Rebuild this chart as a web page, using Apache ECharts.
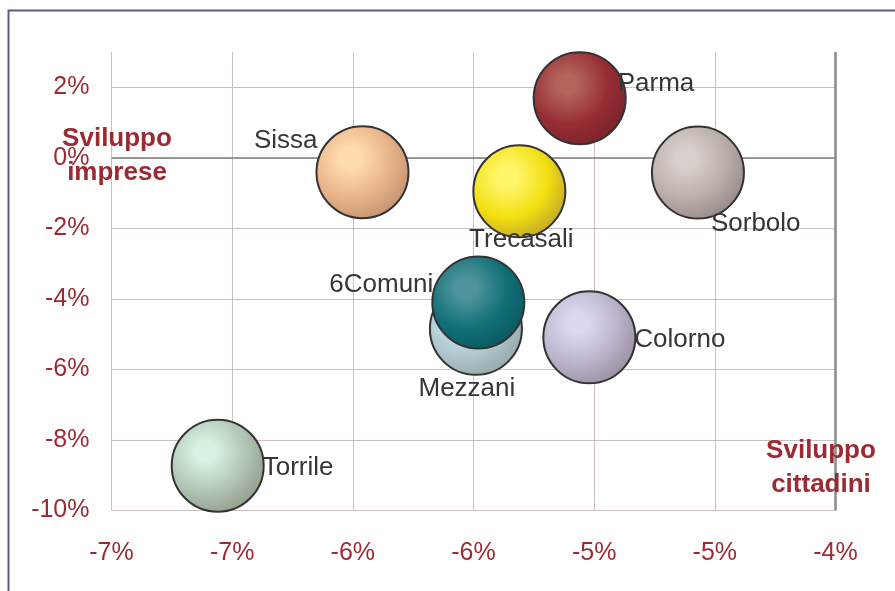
<!DOCTYPE html>
<html>
<head>
<meta charset="utf-8">
<script src="https://cdn.jsdelivr.net/npm/echarts@6/dist/echarts.min.js"></script>
<style>
html,body{margin:0;padding:0;background:#fff;}
#chart{width:895px;height:591px;}
</style>
</head>
<body>
<div id="chart"></div>
<script>
// ---- data ----
var names   = ['Parma', 'Sissa', 'Trecasali', 'Sorbolo', 'Mezzani', 'Colorno', 'Torrile', '6Comuni'];
var xValues = [-5.06, -5.96, -5.31, -4.57, -5.49, -5.02, -6.56, -5.48]; // Sviluppo cittadini (%)
var yValues = [1.69, -0.41, -0.95, -0.42, -4.85, -5.09, -8.73, -4.10];  // Sviluppo imprese (%)
var xTicks = { min: -7, max: -4, interval: 0.5 };
var yTicks = { min: -10, max: 3, interval: 2 };
var xTitle = ['Sviluppo', 'cittadini'];
var yTitle = ['Sviluppo', 'imprese'];

// ---- styles ----
var bubbleColors = {
  'Parma':     ['#b3645b', '#962d34', '#7a2229'],
  'Sissa':     ['#ffdcae', '#e8b388', '#bf9170'],
  'Trecasali': ['#fff66a', '#f2df10', '#bea52e'],
  'Sorbolo':   ['#d8d0cc', '#b9aeaa', '#948884'],
  'Mezzani':   ['#cbe9f1', '#b0c8ce', '#94a5a8'],
  'Colorno':   ['#dcd8f2', '#bbb3cb', '#998d9c'],
  'Torrile':   ['#d6f2e2', '#b2c4b4', '#8f9b88'],
  '6Comuni':   ['#4f949b', '#106f78', '#0a585f']
};
// label placement: [dx, dy, align] relative to bubble centre
var labelPlace = {
  'Parma':     [39, -13, 'left'],
  'Sissa':     [-44, -30, 'right'],
  'Trecasali': [3, 50, 'center'],
  'Sorbolo':   [14, 52, 'left'],
  'Mezzani':   [-8, 61, 'center'],
  'Colorno':   [46, 4, 'left'],
  'Torrile':   [46, 3, 'left'],
  '6Comuni':   [-44, -17, 'right']
};
var SIZE = 92;
var red = '#9c2a33';
var font = 'Liberation Sans, Arial, sans-serif';

function excelRound(v) {
  var r = Math.round(Math.abs(v) + 1e-9);
  return (v < 0 && r !== 0 ? '-' : '') + r + '%';
}

var data = names.map(function (n, i) {
  var c = bubbleColors[n], p = labelPlace[n];
  return {
    name: n,
    value: [xValues[i], yValues[i]],
    itemStyle: {
      opacity: 1,
      color: {
        type: 'radial', x: 0.37, y: 0.35, r: 0.72,
        colorStops: [
          { offset: 0, color: c[0] },
          { offset: 0.15, color: c[0] },
          { offset: 0.6, color: c[1] },
          { offset: 1, color: c[2] }
        ]
      },
      borderColor: '#333333',
      borderWidth: 2
    },
    label: {
      show: true,
      formatter: n,
      position: [SIZE / 2 + p[0], SIZE / 2 + p[1]],
      align: p[2],
      verticalAlign: 'middle'
    }
  };
});

var chart = echarts.init(document.getElementById('chart'));
chart.setOption({
  animation: false,
  backgroundColor: '#ffffff',
  grid: { left: 111.5, right: 59.5, top: 52, bottom: 80.5, containLabel: false },
  xAxis: {
    type: 'value',
    min: xTicks.min, max: xTicks.max, interval: xTicks.interval,
    axisLine: { show: false },
    axisTick: { show: false },
    axisLabel: { color: red, fontSize: 25, fontFamily: font, margin: 30, formatter: excelRound },
    splitLine: { show: true, lineStyle: { color: '#cbbfbf', width: 1 } }
  },
  yAxis: {
    type: 'value',
    min: yTicks.min, max: yTicks.max, interval: yTicks.interval,
    axisLine: { show: false },
    axisTick: { show: false },
    axisLabel: {
      color: red, fontSize: 25, fontFamily: font, margin: 22, showMaxLabel: false,
      padding: [4, 0, 0, 0],
      formatter: function (v) { return (v % 2 === 0) ? excelRound(v) : ''; }
    },
    splitLine: { show: true, showMaxLine: false, lineStyle: { color: '#cbbfbf', width: 1 } }
  },
  series: [{
    type: 'scatter',
    symbol: 'circle',
    symbolSize: SIZE,
    data: data,
    itemStyle: { opacity: 1 },
    label: { fontSize: 26, fontFamily: font, color: '#363636', opacity: 1 },
    emphasis: { disabled: true },
    markLine: {
      silent: true,
      symbol: 'none',
      label: { show: false },
      z: 1,
      data: [
        { yAxis: 0, lineStyle: { color: '#7f7f7f', width: 1.5, type: 'solid', opacity: 1 } },
        { xAxis: xTicks.max, lineStyle: { color: '#8a8a8a', width: 2.5, type: 'solid', opacity: 1 } }
      ]
    }
  }],
  graphic: [
    { type: 'rect', shape: { x: 8.5, y: 10.5, width: 1200, height: 1200 },
      style: { fill: 'none', stroke: '#5c5c88', lineWidth: 2 }, silent: true },
    { type: 'text', x: 117, y: 139, z: 100,
      style: { text: yTitle[0], fill: red, font: 'bold 26px ' + font, textAlign: 'center', textVerticalAlign: 'middle' } },
    { type: 'text', x: 117, y: 173, z: 100,
      style: { text: yTitle[1], fill: red, font: 'bold 26px ' + font, textAlign: 'center', textVerticalAlign: 'middle' } },
    { type: 'text', x: 821, y: 451, z: 100,
      style: { text: xTitle[0], fill: red, font: 'bold 26px ' + font, textAlign: 'center', textVerticalAlign: 'middle' } },
    { type: 'text', x: 821, y: 485, z: 100,
      style: { text: xTitle[1], fill: red, font: 'bold 26px ' + font, textAlign: 'center', textVerticalAlign: 'middle' } }
  ]
});
</script>
</body>
</html>
